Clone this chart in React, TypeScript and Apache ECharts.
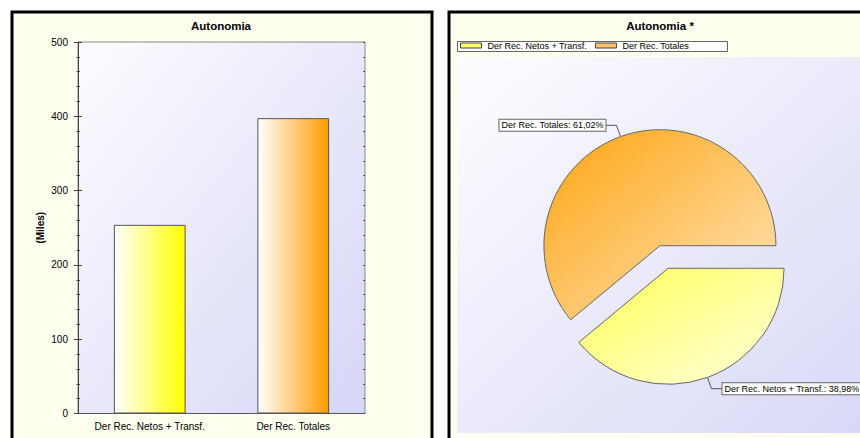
import React, { useEffect, useRef } from "react";
import * as echarts from "echarts";

const categories = ["Der Rec. Netos + Transf.", "Der Rec. Totales"];
const values = [253.9, 397.5];
const yTicks = { min: 0, max: 500, interval: 100 };
const barTitle = "Autonomia";
const pieTitle = "Autonomia *";
const yAxisName = "(Miles)";

const FONT = "'Liberation Sans', Arial, sans-serif";

const lg = (x2: number, y2: number, a: string, b: string) =>
  new echarts.graphic.LinearGradient(0, 0, x2, y2, [
    { offset: 0, color: a },
    { offset: 1, color: b },
  ]);

export default function App() {
  const ref = useRef<HTMLDivElement>(null);
  useEffect(() => {
    if (!ref.current) return;
    const chart = echarts.init(ref.current, null, { renderer: "svg" });
    const barColors = [lg(1, 0, "#ffffff", "#ffff00"), lg(1, 0, "#ffffff", "#ff9c00")];
    const pieColors = [lg(1, 1, "#ffff55", "#ffffe0"), lg(1, 1, "#ffa410", "#ffe6be")];
    const legendColors = ["#ffff66", "#ffc46a"];
    const fmtPct = (p: any) => `${p.name}: ${Number(p.percent).toFixed(2).replace(".", ",")}%`;

    chart.setOption({
      animation: false,
      backgroundColor: "#ffffff",
      textStyle: { fontFamily: FONT },
      title: [
        { text: barTitle, left: 221, top: 20, padding: 0, textAlign: "center", textStyle: { fontSize: 11.5, fontWeight: "bold", color: "#000", fontFamily: FONT } },
        { text: pieTitle, left: 660, top: 20, padding: 0, textAlign: "center", textStyle: { fontSize: 11.5, fontWeight: "bold", color: "#000", fontFamily: FONT } },
      ],
      graphic: [
        { type: "rect", z: -10, shape: { x: 12, y: 12, width: 420, height: 440 }, style: { fill: "#fffff0", stroke: "#000", lineWidth: 3 } },
        { type: "rect", z: -10, shape: { x: 449, y: 12, width: 430, height: 440 }, style: { fill: "#fffff0", stroke: "#000", lineWidth: 3 } },
        { type: "rect", z: -9, shape: { x: 457, y: 57, width: 410, height: 376 }, style: { fill: lg(1, 1, "#fdfdff", "#d8d8f7") } },
        { type: "rect", z: -9, shape: { x: 457.5, y: 41.5, width: 270, height: 10 }, style: { fill: "#ffffff", stroke: "#666", lineWidth: 1 } },
      ],
      legend: {
        left: 460,
        top: 41,
        padding: 0,
        itemWidth: 21,
        itemHeight: 5,
        itemGap: 8,
        selectedMode: false,
        textStyle: { fontSize: 9, color: "#000", fontFamily: FONT, padding: [0, 0, 0, 1] },
        data: categories.map((name, i) => ({
          name,
          icon: "rect",
          itemStyle: { color: legendColors[i], borderColor: "#444", borderWidth: 1 },
        })),
      },
      grid: {
        left: 78,
        top: 42,
        width: 287,
        height: 371.5,
        show: true,
        backgroundColor: lg(1, 1, "#fcfcff", "#d6d6f6"),
        borderColor: "#888",
        borderWidth: 1,
      },
      xAxis: [
        {
          type: "category",
          data: categories,
          position: "bottom",
          axisLine: { lineStyle: { color: "#555" } },
          axisTick: { alignWithLabel: true, inside: true, length: 4, lineStyle: { color: "#555" } },
          axisLabel: { interval: 0, fontSize: 10, color: "#000", margin: 8, fontFamily: FONT, hideOverlap: false },
        },
        {
          type: "category",
          data: categories,
          position: "top",
          axisLine: { show: false },
          axisTick: { alignWithLabel: true, inside: true, length: 4, lineStyle: { color: "#555" } },
          axisLabel: { show: false },
        },
      ],
      yAxis: [
        {
          type: "value",
          ...yTicks,
          position: "left",
          name: yAxisName,
          nameLocation: "middle",
          nameGap: 33,
          nameRotate: 90,
          nameTextStyle: { fontSize: 10, fontWeight: "bold", color: "#000", fontFamily: FONT },
          axisLine: { show: true, lineStyle: { color: "#444" } },
          axisTick: { show: true, inside: false, length: 4, lineStyle: { color: "#444" } },
          minorTick: { show: true, splitNumber: 5, length: 1.5, lineStyle: { color: "#444" } },
          splitLine: { show: false },
          axisLabel: { fontSize: 10, color: "#000", margin: 10, fontFamily: FONT },
        },
        {
          type: "value",
          ...yTicks,
          position: "left",
          axisLine: { show: false },
          axisTick: { show: true, inside: true, length: 4, lineStyle: { color: "#444" } },
          minorTick: { show: true, splitNumber: 5, length: 2, lineStyle: { color: "#444" } },
          splitLine: { show: false },
          axisLabel: { show: false },
        },
        {
          type: "value",
          ...yTicks,
          position: "right",
          axisLine: { show: false },
          axisTick: { show: true, inside: true, length: 2, lineStyle: { color: "#555" } },
          minorTick: { show: true, splitNumber: 5, length: 2, lineStyle: { color: "#555" } },
          splitLine: { show: false },
          axisLabel: { show: false },
        },
      ],
      series: [
        {
          type: "bar",
          xAxisIndex: 0,
          yAxisIndex: 0,
          barWidth: "50%",
          data: values.map((v, i) => ({ value: v, itemStyle: { color: barColors[i] } })),
          itemStyle: { borderColor: "#555", borderWidth: 1 },
          emphasis: { disabled: true },
        },
        {
          type: "pie",
          center: [664, 257],
          radius: 116,
          startAngle: 0,
          clockwise: true,
          selectedMode: "multiple",
          selectedOffset: 12,
          avoidLabelOverlap: false,
          emphasis: { disabled: true },
          itemStyle: { borderColor: "#666", borderWidth: 1 },
          label: {
            show: true,
            position: "outside",
            formatter: fmtPct,
            fontSize: 9,
            lineHeight: 11,
            color: "#000",
            fontFamily: FONT,
            backgroundColor: "#ffffff",
            borderColor: "#666",
            borderWidth: 1,
            padding: [0, 2, 0, 2],
            distanceToLabelLine: 0,
          },
          labelLine: { show: true, length: 12, length2: 11, smooth: false, lineStyle: { color: "#555", width: 1 } },
          data: categories.map((name, i) => ({
            name,
            value: values[i],
            selected: true,
            itemStyle: { color: pieColors[i] },
          })),
        },
      ],
    });
    return () => chart.dispose();
  }, []);
  return <div ref={ref} style={{ position: "absolute", left: 0, top: 0, width: 860, height: 438 }} />;
}
